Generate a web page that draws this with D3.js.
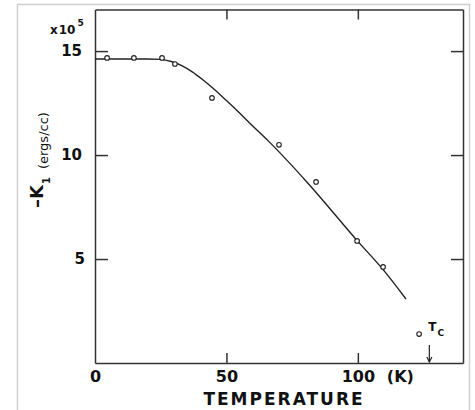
<!DOCTYPE html>
<html>
<head>
<meta charset="utf-8">
<script src="https://cdn.jsdelivr.net/npm/d3@7"></script>
<style>
  html, body { margin: 0; padding: 0; background: #fff; }
  svg { display: block; }
  text { font-family: "DejaVu Sans", sans-serif; fill: #111; }
</style>
</head>
<body>
<div id="chart"></div>
<script>
// Measured anisotropy constant -K1 (in units of 10^5 erg/cc) versus temperature
const tempPoints = [4.6, 14.8, 25.5, 30.4, 44.5, 70.0, 84.1, 99.7, 109.6, 123.3];
const k1Points   = [14.67, 14.67, 14.67, 14.38, 12.75, 10.49, 8.71, 5.87, 4.62, 1.39];

// Smooth fitted curve through the data
const curveTemp = [0, 20, 25, 29, 33, 37, 41, 45, 50, 55, 60, 66, 80.5, 100, 110, 118.3];
const curveK1   = [14.62, 14.62, 14.6, 14.5, 14.3, 14.0, 13.62, 13.2, 12.62, 12.02, 11.4, 10.67, 8.72, 5.85, 4.43, 3.08];

// Curie temperature marker
const curieTemp = 127.2;

// Axes
const xDomain = [0, 140];
const yDomain = [0, 17];
const xTickValues = [0, 50, 100];
const xTickLabels = ["0", "50", "100"];
const xMinorTicks = [50, 100];
const yTickValues = [5, 10, 15];
const yTickLabels = ["5", "10", "15"];

const W = 475, H = 410;
const plot = { left: 95, right: 463, top: 9.5, bottom: 363 };

const svg = d3.select("#chart").append("svg")
  .attr("width", W).attr("height", H);

svg.append("rect").attr("width", W).attr("height", H).attr("fill", "#fff");

// light outer frame
svg.append("path")
  .attr("d", `M17.5,${H} V4.5 H469.5 V${H}`)
  .attr("fill", "none").attr("stroke", "#cfcfcf").attr("stroke-width", 1.5);

const x = d3.scaleLinear().domain(xDomain).range([plot.left, plot.right]);
const y = d3.scaleLinear().domain(yDomain).range([plot.bottom, plot.top]);

const axisColor = "#333";

function styleAxis(g) {
  g.select(".domain").attr("stroke", axisColor).attr("stroke-width", 1.5);
  g.selectAll(".tick line").attr("stroke", axisColor).attr("stroke-width", 1.5);
  g.selectAll(".tick text")
    .attr("font-family", "DejaVu Sans, sans-serif")
    .attr("font-weight", "bold")
    .attr("fill", "#111");
}

// left axis
const gLeft = svg.append("g")
  .attr("transform", `translate(${plot.left},0)`)
  .call(d3.axisLeft(y).tickValues(yTickValues)
    .tickFormat((d, i) => yTickLabels[i])
    .tickSizeInner(-13).tickSizeOuter(0).tickPadding(13));
styleAxis(gLeft);
gLeft.selectAll(".tick text").attr("font-size", 15)
  .attr("x", d => d === 5 ? -10 : -13);

// right axis
const gRight = svg.append("g")
  .attr("transform", `translate(${plot.right},0)`)
  .call(d3.axisRight(y).tickValues(yTickValues).tickFormat("")
    .tickSizeInner(-12).tickSizeOuter(0));
styleAxis(gRight);

// bottom axis
const gBottom = svg.append("g")
  .attr("transform", `translate(0,${plot.bottom})`)
  .call(d3.axisBottom(x).tickValues(xTickValues)
    .tickFormat((d, i) => xTickLabels[i])
    .tickSizeInner(-10).tickSizeOuter(0).tickPadding(8));
styleAxis(gBottom);
gBottom.selectAll(".tick text").attr("font-size", 16);
gBottom.selectAll(".tick line").filter(d => d === 0).remove();

// top axis
const gTop = svg.append("g")
  .attr("transform", `translate(0,${plot.top})`)
  .call(d3.axisTop(x).tickValues(xMinorTicks).tickFormat("")
    .tickSizeInner(-10).tickSizeOuter(0));
styleAxis(gTop);

// unit next to the 100 label
svg.append("text")
  .attr("x", x(100) + 29).attr("y", plot.bottom + 8)
  .attr("dy", "0.71em")
  .attr("font-size", 16).attr("font-weight", "bold")
  .text("(K)");

// x axis title
svg.append("text")
  .attr("x", 284).attr("y", 405)
  .attr("text-anchor", "middle")
  .attr("font-size", 17).attr("font-weight", "bold")
  .attr("letter-spacing", 2)
  .text("TEMPERATURE");

// y scale multiplier
const mult = svg.append("text").attr("x", 50).attr("y", 34)
  .attr("font-size", 12).attr("font-weight", "bold");
mult.append("tspan").text("x");
mult.append("tspan").attr("dx", 1).text("10");
mult.append("tspan").attr("font-size", 9).attr("dx", 2).attr("dy", -8).text("5");

// y axis title
const yTitle = svg.append("text")
  .attr("transform", "translate(43,208) rotate(-90)")
  .attr("font-weight", "bold");
yTitle.append("tspan").attr("font-size", 18).text("–K");
yTitle.append("tspan").attr("font-size", 10).attr("dx", 1).attr("dy", 7).text("1");
yTitle.append("tspan").attr("font-size", 13).attr("font-weight", "normal")
  .attr("dx", 8).attr("dy", -2).text("(ergs/cc)");

// fitted curve
const line = d3.line()
  .x((d, i) => x(curveTemp[i]))
  .y((d, i) => y(curveK1[i]))
  .curve(d3.curveMonotoneX);

svg.append("path")
  .datum(curveTemp)
  .attr("d", line)
  .attr("fill", "none")
  .attr("stroke", "#222")
  .attr("stroke-width", 1.4);

// measured points
svg.append("g").selectAll("circle")
  .data(tempPoints)
  .join("circle")
  .attr("cx", d => x(d))
  .attr("cy", (d, i) => y(k1Points[i]))
  .attr("r", 2.3)
  .attr("fill", "#fff")
  .attr("stroke", "#222")
  .attr("stroke-width", 1.1);

// Curie temperature arrow and label
const xc = x(curieTemp);
svg.append("line")
  .attr("x1", xc).attr("x2", xc)
  .attr("y1", plot.bottom - 18).attr("y2", plot.bottom - 1)
  .attr("stroke", "#222").attr("stroke-width", 1.2);
svg.append("path")
  .attr("d", `M${xc - 2.5},${plot.bottom - 6} L${xc},${plot.bottom - 1} L${xc + 2.5},${plot.bottom - 6}`)
  .attr("fill", "none").attr("stroke", "#222").attr("stroke-width", 1.2);

const tc = svg.append("text").attr("x", xc - 1).attr("y", plot.bottom - 32)
  .attr("font-size", 12).attr("font-weight", "bold");
tc.append("tspan").text("T");
tc.append("tspan").attr("font-size", 9).attr("dx", 1).attr("dy", 5).text("C");
</script>
</body>
</html>
